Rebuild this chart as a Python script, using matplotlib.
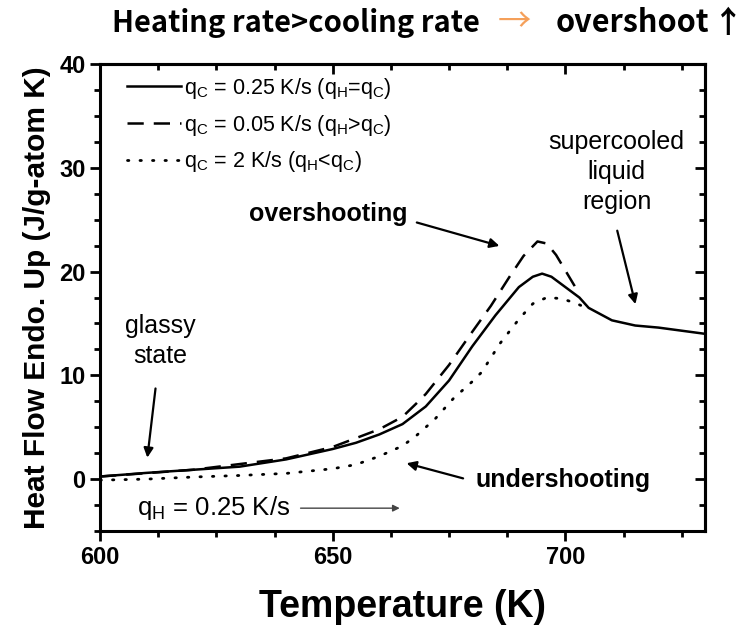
import matplotlib
matplotlib.use("Agg")
import matplotlib.pyplot as plt
from matplotlib.ticker import MultipleLocator

# ---- data ----
T_solid = [600, 610, 620, 630, 640, 650, 655, 660, 665, 670, 675, 680, 685, 690,
           693, 695, 697, 700, 703, 705, 710, 715, 720, 725, 730]
H_solid = [0.25, 0.6, 0.9, 1.2, 1.9, 2.9, 3.5, 4.3, 5.3, 7.0, 9.5, 12.8, 15.8, 18.5,
           19.5, 19.8, 19.5, 18.5, 17.5, 16.5, 15.3, 14.8, 14.6, 14.3, 14.0]

T_dash = [600, 620, 640, 650, 660, 665, 668, 670, 675, 680, 684, 688, 691, 694,
          696, 698, 700, 702, 703]
H_dash = [0.25, 0.9, 2.0, 3.1, 4.8, 6.0, 7.3, 8.2, 11.0, 14.2, 16.7, 19.5, 21.5, 22.9,
          22.7, 21.6, 20.1, 18.6, 17.8]

T_dot = [600, 610, 620, 630, 640, 650, 655, 660, 665, 668, 672, 676, 680, 682, 686,
         690, 693, 696, 699, 702, 705]
H_dot = [-0.1, 0.0, 0.2, 0.35, 0.55, 1.0, 1.4, 2.2, 3.2, 4.2, 5.8, 7.8, 9.4, 10.3, 13.1,
         15.4, 16.9, 17.5, 17.4, 17.0, 16.4]

legend_labels = [r"q$_\mathregular{C}$ = 0.25 K/s (q$_\mathregular{H}$=q$_\mathregular{C}$)",
                 r"q$_\mathregular{C}$ = 0.05 K/s (q$_\mathregular{H}$>q$_\mathregular{C}$)",
                 r"q$_\mathregular{C}$ = 2 K/s (q$_\mathregular{H}$<q$_\mathregular{C}$)"]
x_ticks = [600, 650, 700]
y_ticks = [0, 10, 20, 30, 40]

plt.rcParams['font.family'] = ['Liberation Sans', 'DejaVu Sans']
plt.rcParams['mathtext.fontset'] = 'custom'
plt.rcParams['mathtext.rm'] = 'Liberation Sans'

fig = plt.figure(figsize=(7.45, 6.29), dpi=100)
ax = fig.add_axes([100/745, 1-531/629, 605/745, 467/629])

ax.plot(T_solid, H_solid, color='black', lw=1.8, label=legend_labels[0])
ax.plot(T_dash, H_dash, color='black', lw=1.8, ls=(0, (6.5, 4)), label=legend_labels[1])
ax.plot(T_dot, H_dot, color='black', lw=2.0, ls=(0, (0.5, 4)), dash_capstyle='round',
        label=legend_labels[2])

ax.set_xlim(600, 730)
ax.set_ylim(-5, 40)
ax.set_xticks(x_ticks)
ax.set_yticks(y_ticks)
ax.xaxis.set_minor_locator(MultipleLocator(12.5))
ax.yaxis.set_minor_locator(MultipleLocator(2.5))
for s in ax.spines.values():
    s.set_linewidth(2.2)
ax.tick_params(which='major', direction='out', length=7, width=2,
               labelsize=17, top=False, right=False)
ax.tick_params(which='minor', direction='out', length=4.5, width=2, top=False, right=False)
for lab in ax.get_xticklabels() + ax.get_yticklabels():
    lab.set_fontweight('bold')

secx = ax.secondary_xaxis('top')
secx.set_xticks(x_ticks)
secx.xaxis.set_minor_locator(MultipleLocator(12.5))
secx.tick_params(which='major', direction='in', length=7, width=2, labeltop=False)
secx.tick_params(which='minor', direction='in', length=4.5, width=2)
secy = ax.secondary_yaxis('right')
secy.set_yticks(y_ticks)
secy.yaxis.set_minor_locator(MultipleLocator(2.5))
secy.tick_params(which='major', direction='in', length=7, width=2, labelright=False)
secy.tick_params(which='minor', direction='in', length=4.5, width=2)
for s in list(secx.spines.values()) + list(secy.spines.values()):
    s.set_linewidth(2.2)

ax.set_xlabel("Temperature (K)", fontsize=27, fontweight='bold', labelpad=15)
ax.set_ylabel("Heat Flow Endo. Up (J/g-atom K)", fontsize=21.5, fontweight='bold', labelpad=6)

leg = ax.legend(loc='upper left', bbox_to_anchor=(0.045, 0.975), frameon=False, fontsize=15.5,
                handlelength=2.5, handletextpad=0.15, labelspacing=0.55, borderaxespad=0.0,
                borderpad=0.0)

ann_fs = 18
ax.text(613, 13.3, "glassy\nstate", ha='center', va='center', fontsize=ann_fs, linespacing=1.3)
ax.annotate("", xy=(610.1, 1.8), xytext=(612.0, 9.0),
            arrowprops=dict(arrowstyle='-|>', color='black', lw=1.6, mutation_scale=14))
ax.text(666, 25.5, "overshooting", ha='right', va='center', fontsize=ann_fs, fontweight='bold')
ax.annotate("", xy=(686.4, 22.4), xytext=(667.5, 24.8),
            arrowprops=dict(arrowstyle='-|>', color='black', lw=1.6, mutation_scale=14))
ax.text(711, 29.6, "supercooled\nliquid\nregion", ha='center', va='center', fontsize=ann_fs,
        linespacing=1.3)
ax.annotate("", xy=(715.2, 16.6), xytext=(711.0, 24.2),
            arrowprops=dict(arrowstyle='-|>', color='black', lw=1.6, mutation_scale=14))
ax.text(699.5, -0.1, "undershooting", ha='center', va='center', fontsize=ann_fs, fontweight='bold')
ax.annotate("", xy=(665.3, 1.6), xytext=(678.6, 0.0),
            arrowprops=dict(arrowstyle='-|>', color='black', lw=1.6, mutation_scale=14))
ax.text(608, -2.8, r"q$_\mathregular{H}$ = 0.25 K/s", ha='left', va='center', fontsize=18.5)
ax.annotate("", xy=(665, -2.8), xytext=(642.5, -2.8),
            arrowprops=dict(arrowstyle='-|>', color='#444444', lw=1.0, mutation_scale=10))

# title pieces
tfont = ['Noto Sans CJK KR', 'DejaVu Sans']
ty = 1 - 23/629
fig.text(112/745, ty, "Heating rate>cooling rate", fontsize=21, fontweight='bold',
         family=tfont, ha='left', va='center')
fig.text(514/745, ty, "\u2192", fontsize=24, color='#F5A05A', family=tfont,
         ha='center', va='center')
fig.text(556/745, ty, "overshoot", fontsize=22, fontweight='bold',
         family=tfont, ha='left', va='center')
fig.text(728/745, ty, "\u2191", fontsize=22, fontweight='bold',
         family=tfont, ha='center', va='center')

fig.savefig("out.png", dpi=100)
